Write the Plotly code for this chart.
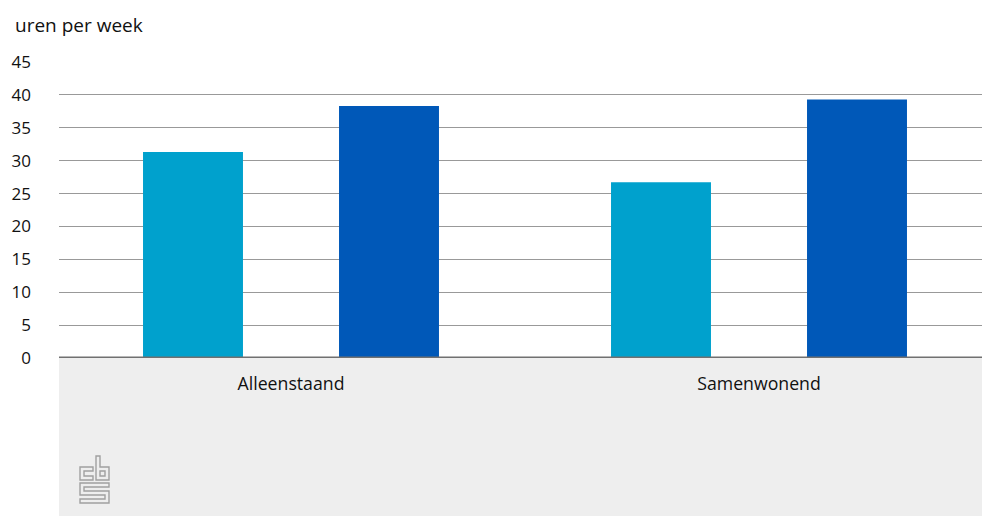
import plotly.graph_objects as go

categories = ["Alleenstaand", "Samenwonend"]
series_a = [31.3, 26.7]   # light blue
series_b = [38.3, 39.3]   # dark blue
y_ticks = [0, 5, 10, 15, 20, 25, 30, 35, 40, 45]
y_title = "uren per week"

W, H = 982, 516
L, R, T, B = 59, 0, 62, 158
PW, PH = W - L - R, H - T - B

def px(x):
    return (x - L) / PW

def py(y):
    return (H - B - y) / PH

FONT = "Open Sans"
TXT = "#111111"

fig = go.Figure()
fig.add_trace(go.Bar(x=[0, 1], y=series_a, marker=dict(color="#00a1cd", line=dict(width=0)),
                     name="a", showlegend=False))
fig.add_trace(go.Bar(x=[0, 1], y=series_b, marker=dict(color="#0058b8", line=dict(width=0)),
                     name="b", showlegend=False))

shapes = []
# grey bottom panel
shapes.append(dict(type="rect", xref="paper", yref="paper", x0=0, x1=1, y0=py(516), y1=0,
                   fillcolor="#eeeeee", line=dict(width=0), layer="below"))
# zero baseline
shapes.append(dict(type="line", xref="paper", yref="y", x0=0, x1=1, y0=0, y1=0,
                   line=dict(color="#707070", width=3), layer="above"))

# cbs logo (decoration)
def path(pts, close=False):
    s = ""
    for i, (a, b) in enumerate(pts):
        s += ("M" if i == 0 else "L") + f"{px(a):.5f},{py(b):.5f} "
    if close:
        s += "Z"
    return s

logo = [
    path([(93, 467), (80, 467), (80, 480), (93, 480), (93, 476), (84, 476), (84, 471), (93, 471)], True),
    path([(96, 456), (100, 456), (100, 467), (109, 467), (109, 480), (96, 480)], True),
    path([(100, 471), (105, 471), (105, 476), (100, 476)], True),
    path([(109, 483), (80, 483), (80, 495), (105, 495), (105, 499), (80, 499), (80, 503),
          (109, 503), (109, 491), (84, 491), (84, 487), (109, 487)], True),
]
for p in logo:
    shapes.append(dict(type="path", xref="paper", yref="paper", path=p,
                       line=dict(color="#a0a0a0", width=1.4), fillcolor="rgba(0,0,0,0)"))

x0 = -(291 - L) / 468
x1 = 1 + (W - R - 759) / 468

fig.update_layout(
    width=W, height=H,
    margin=dict(l=L, r=R, t=T, b=B, pad=0),
    paper_bgcolor="white", plot_bgcolor="white",
    barmode="group", bargap=0.1624, bargroupgap=0.49,
    font=dict(family=FONT, size=16, color=TXT),
    shapes=shapes,
    xaxis=dict(range=[x0, x1], tickmode="array", tickvals=[0, 1], ticktext=categories,
               showgrid=False, zeroline=False, showline=False, ticks="",
               ticklabelstandoff=13, tickfont=dict(size=17.7, color=TXT)),
    yaxis=dict(range=[0, 45], tickvals=y_ticks, showgrid=True, gridcolor="#999999",
               gridwidth=1, zeroline=False, showline=False, ticks="",
               ticklabelstandoff=27, tickfont=dict(size=17, color=TXT)),
    annotations=[dict(text=y_title, xref="paper", yref="paper", x=px(13), y=py(25),
                      xanchor="left", yanchor="middle", showarrow=False,
                      font=dict(size=19, color=TXT, family=FONT))],
)

fig.write_html("out.html", config={"displayModeBar": False},
               post_script="document.body.style.margin='0';document.body.style.overflow='hidden';")
